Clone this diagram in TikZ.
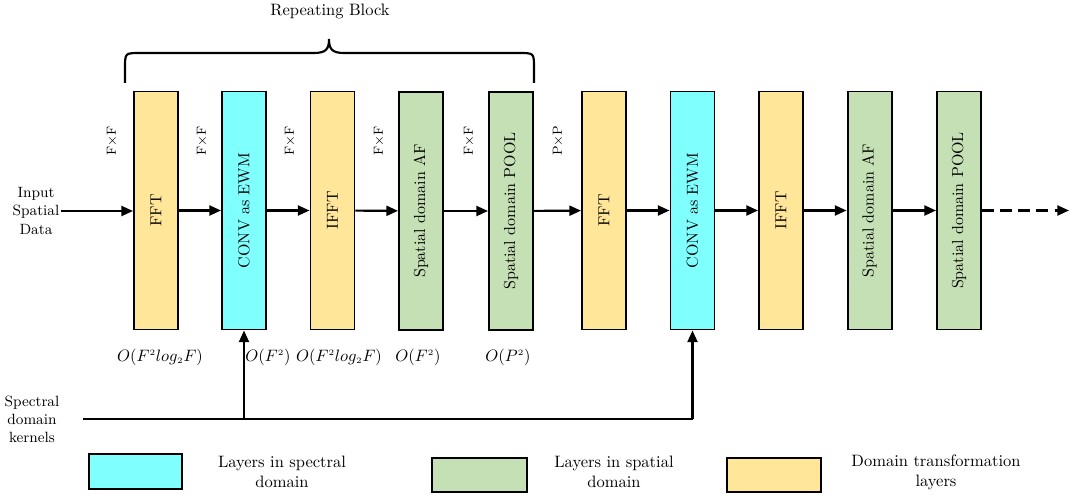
\documentclass[tikz,border=0pt]{standalone}
\usepackage{graphicx}
\usetikzlibrary{arrows.meta}
\definecolor{cyanL}{RGB}{128,255,255}
\definecolor{yelL}{RGB}{255,230,153}
\definecolor{grnL}{RGB}{197,224,180}
\def\px{0.606pt}
\newcommand{\ssc}[1]{{\scriptscriptstyle #1}}
\begin{document}
\begin{tikzpicture}[x=0.606pt,y=-0.606pt,
  lay/.style={draw=black,line width=1.2pt,minimum width=44*\px,minimum height=238*\px,inner sep=0pt,font=\fontsize{9.7}{12}\selectfont},
  tr/.style={lay,fill=yelL},
  spec/.style={lay,fill=cyanL},
  spat/.style={lay,fill=grnL},
  legbox/.style={draw=black,line width=1.2pt,inner sep=0pt,minimum height=34*\px,minimum width=94*\px},
  dimlab/.style={font=\footnotesize,rotate=90},
  cx/.style={font=\normalsize},
  conn/.style={line width=1.3pt,-{Triangle[length=7pt,width=6pt]}},
  plain/.style={line width=1.3pt}
]
\useasboundingbox (0,0) rectangle (1070,495);

% layers
\node[tr]   (b1)  at (156,210.5) {\rotatebox{90}{FFT}};
\node[spec] (b2)  at (244,210.5) {\rotatebox{90}{CONV as EWM}};
\node[tr]   (b3)  at (332.5,210.5) {\rotatebox{90}{IFFT}};
\node[spat] (b4)  at (421,211) {\rotatebox{90}{Spatial domain AF}};
\node[spat] (b5)  at (511,211) {\rotatebox{90}{Spatial domain POOL}};
\node[tr]   (b6)  at (604,210.5) {\rotatebox{90}{FFT}};
\node[spec] (b7)  at (692.5,210.5) {\rotatebox{90}{CONV as EWM}};
\node[tr]   (b8)  at (781,210.5) {\rotatebox{90}{IFFT}};
\node[spat] (b9)  at (869.5,210.5) {\rotatebox{90}{Spatial domain AF}};
\node[spat] (b10) at (959,210.5) {\rotatebox{90}{Spatial domain POOL}};

% input
\node[align=center,font=\small,inner sep=1pt] (in) at (36,211) {Input\\Spatial\\Data};
\draw[conn] (in.east) -- (b1.west |- in.east);
\draw[conn] (b1) -- (b2);
\draw[conn] (b2) -- (b3);
\draw[conn] (b3) -- (b4);
\draw[conn] (b4) -- (b5);
\draw[conn] (b5) -- (b6);
\draw[conn] (b6) -- (b7);
\draw[conn] (b7) -- (b8);
\draw[conn] (b8) -- (b9);
\draw[conn] (b9) -- (b10);
\coordinate (out) at (1069,210.5);
\draw[conn,dashed,dash pattern=on 7pt off 4pt] (b10) -- (out);

% dimension labels
\node[dimlab] (d1) at (112,141) {F$\times$F};
\node[dimlab] (d2) at (202,141) {F$\times$F};
\node[dimlab] (d3) at (290,141) {F$\times$F};
\node[dimlab] (d4) at (379,141) {F$\times$F};
\node[dimlab] (d5) at (469,141) {F$\times$F};
\node[dimlab] (d6) at (558,141) {P$\times$P};

% complexity labels
\node[cx] (c1) at (160,357) {$O(F^{\ssc2}log_{\ssc2}F)$};
\node[cx] (c2) at (268,357) {$O(F^{\ssc2})$};
\node[cx] (c3) at (339,357) {$O(F^{\ssc2}log_{\ssc2}F)$};
\node[cx] (c4) at (418,357) {$O(F^{\ssc2})$};
\node[cx] (c5) at (508,357) {$O(P^{\ssc2})$};

% repeating block brace
\draw[line width=1.3pt] (125,83) -- (125,68) .. controls (125,53) .. (140,53) -- (314,53)
  .. controls (326,53) and (329,49) .. (329,39) .. controls (329,49) and (332,53) .. (344,53)
  -- (519,53) .. controls (534,53) .. (534,68) -- (534,83);
\node (rb) at (330,11) {Repeating Block};

% spectral kernels
\node[align=center,font=\small,inner sep=1pt] (sk) at (32,419) {Spectral\\domain\\kernels};
\coordinate (k0) at (83,419);
\coordinate (k1) at (b2.south |- k0);
\draw[plain] (k0) -- (b7.south |- k0);
\draw[conn] (b7.south |- k0) -- (b7.south);
\draw[conn] (k1) -- (b2.south);

% legend
\node[legbox,fill=cyanL,minimum width=93*\px,minimum height=35*\px] (l1) at (135.5,471.5) {};
\node[align=center] (t1) at (282,472) {Layers in spectral\\domain};
\node[legbox,fill=grnL,minimum width=95*\px] (l2) at (479.5,475) {};
\node[align=center] (t2) at (614,472) {Layers in spatial\\domain};
\node[legbox,fill=yelL] (l3) at (774,475) {};
\node[align=center] (t3) at (936,472) {Domain transformation\\layers};
\end{tikzpicture}
\end{document}
